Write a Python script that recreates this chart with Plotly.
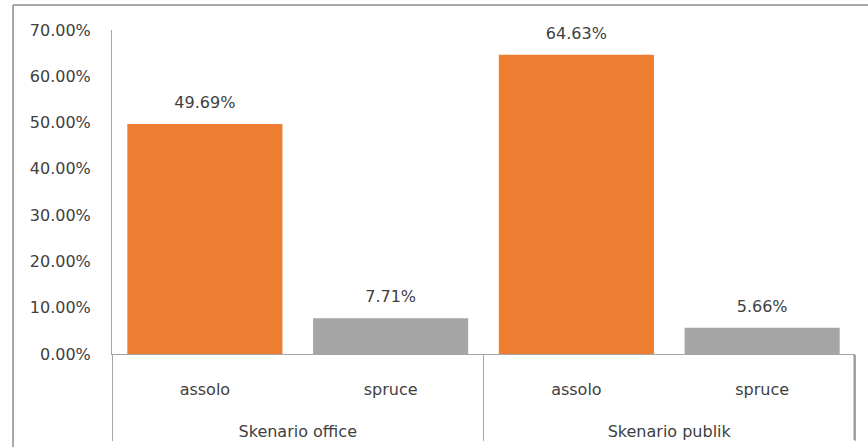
import plotly.graph_objects as go

groups = ["Skenario office", "Skenario office", "Skenario publik", "Skenario publik"]
methods = ["assolo", "spruce", "assolo", "spruce"]
values = [49.69, 7.71, 64.63, 5.66]
colors = ["#ED7D31", "#A5A5A5", "#ED7D31", "#A5A5A5"]
ytick_vals = [0, 10, 20, 30, 40, 50, 60, 70]
ytick_text = ["0.00%", "10.00%", "20.00%", "30.00%", "40.00%", "50.00%", "60.00%", "70.00%"]

FONT = "DejaVu Sans, sans-serif"
FS = 16
x_cats = [["\u00a0<br>" + g for g in groups], ["<br>" + m + "<br>\u00a0" for m in methods]]

fig = go.Figure()
fig.add_trace(go.Bar(
    x=x_cats,
    y=values,
    marker=dict(color=colors, line=dict(width=0)),
    hoverinfo="skip",
))
fig.add_trace(go.Scatter(
    x=x_cats,
    y=values,
    mode="markers+text",
    marker=dict(size=18, opacity=0),
    text=[f"{v:.2f}%" for v in values],
    textposition="top center",
    textfont=dict(family=FONT, size=FS, color="#404040"),
    cliponaxis=False,
    hoverinfo="skip",
))

fig.update_layout(
    width=868, height=447,
    margin=dict(l=112, r=13, t=30, b=93),
    paper_bgcolor="white", plot_bgcolor="white",
    bargap=0.165,
    showlegend=False,
    font=dict(family=FONT, size=FS, color="#404040"),
    xaxis=dict(
        type="multicategory", automargin=False,
        showline=True, linecolor="#A6A6A6", linewidth=1,
        showgrid=False, ticks="",
        showdividers=True, dividercolor="#A6A6A6", dividerwidth=1,
        tickfont=dict(family=FONT, size=FS, color="#404040"),
    ),
    yaxis=dict(
        range=[0, 70], automargin=False,
        tickvals=ytick_vals, ticktext=ytick_text,
        showline=True, linecolor="#A6A6A6", linewidth=1,
        showgrid=False, zeroline=False, ticks="",
        tickfont=dict(family=FONT, size=FS, color="#404040"),
        ticklabelstandoff=17,
    ),
    shapes=[
        dict(type="line", xref="paper", yref="paper",
             x0=-0.1332, x1=1.05, y0=1.077, y1=1.077,
             line=dict(color="#8C8C8C", width=1.5)),
        dict(type="line", xref="paper", yref="paper",
             x0=-0.1332, x1=-0.1332, y0=1.077, y1=-0.35,
             line=dict(color="#8C8C8C", width=1.5)),
        dict(type="line", xref="paper", yref="paper",
             x0=0.999, x1=0.999, y0=0, y1=-0.266,
             line=dict(color="#999999", width=1.5)),
    ],
)

fig.write_html("out.html", config={"displayModeBar": False},
               post_script="document.body.style.margin='0';")
